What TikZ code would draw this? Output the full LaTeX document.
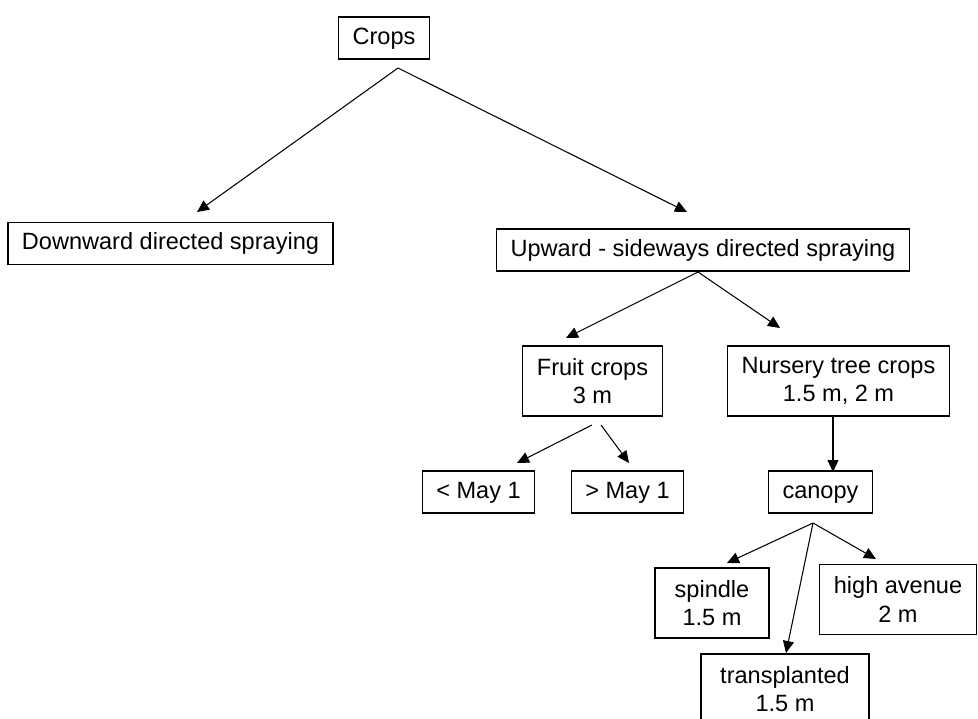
\documentclass[tikz,border=0pt]{standalone}
\usepackage{fontspec}
\setmainfont{Liberation Sans}
\usetikzlibrary{arrows.meta}
\begin{document}
\begin{tikzpicture}[x=.02cm,y=-.02cm,line width=.6pt,
	base/.style={draw,font=\fontsize{13.4}{16}\selectfont,inner xsep=.28cm,inner ysep=0pt,align=center},
	box/.style={base,text height=.72em,text depth=0pt,minimum height=.84cm},
	tall/.style={base,minimum height=1.4cm},
	arr/.style={-{Triangle[length=.24cm,width=.22cm]}}]
			\useasboundingbox (0,0) rectangle (978,718);
			\clip (0,0) rectangle (978,718);
			\node[box] (crops) at (384,38) {Crops};
			\node[box] (down) at (170.5,243.5) {Downward directed spraying};
			\node[box] (up) at (703,250) {Upward - sideways directed spraying};
			\node[tall] (fruit) at (592.5,381) {Fruit crops\\3 m};
			\node[tall] (nursery) at (838.5,381) {Nursery tree crops\\1.5 m, 2 m};
			\node[box] (early) at (478.5,492) {< May 1};
			\node[box] (late) at (627.5,492) {> May 1};
			\node[box] (canopy) at (820.5,492) {canopy};
			\node[tall,minimum width=2.28cm] (spindle) at (712,603) {spindle\\1.5 m};
			\node[tall,minimum width=3.12cm] (avenue) at (898,599.5) {high avenue\\2 m};
			\node[tall,minimum width=3.36cm] (transpl) at (785,689) {transplanted\\1.5 m};
			\path 
			(398,68) coordinate (f1)
			(197,212) coordinate (t1)
			(687,212) coordinate (t2)
			(698,272) coordinate (f2)
			(566,338) coordinate (t3)
			(780,328) coordinate (t4)
			(592,425) coordinate (f3)
			(517,463) coordinate (t5)
			(601,425) coordinate (f4)
			(629,463) coordinate (t6)
			(nursery.south -| 833,0) coordinate (f5)
			(833,472) coordinate (t7)
			(813,523) coordinate (f6)
			(727,563) coordinate (t8)
			(786,653) coordinate (t9)
			(876,559) coordinate (t10);
			\foreach \s/\t in {f1/t1, f1/t2, f2/t3, f2/t4, f3/t5, f4/t6, f5/t7, f6/t8, f6/t9, f6/t10} \draw[arr] (\s)--(\t);
\end{tikzpicture}
\end{document}
